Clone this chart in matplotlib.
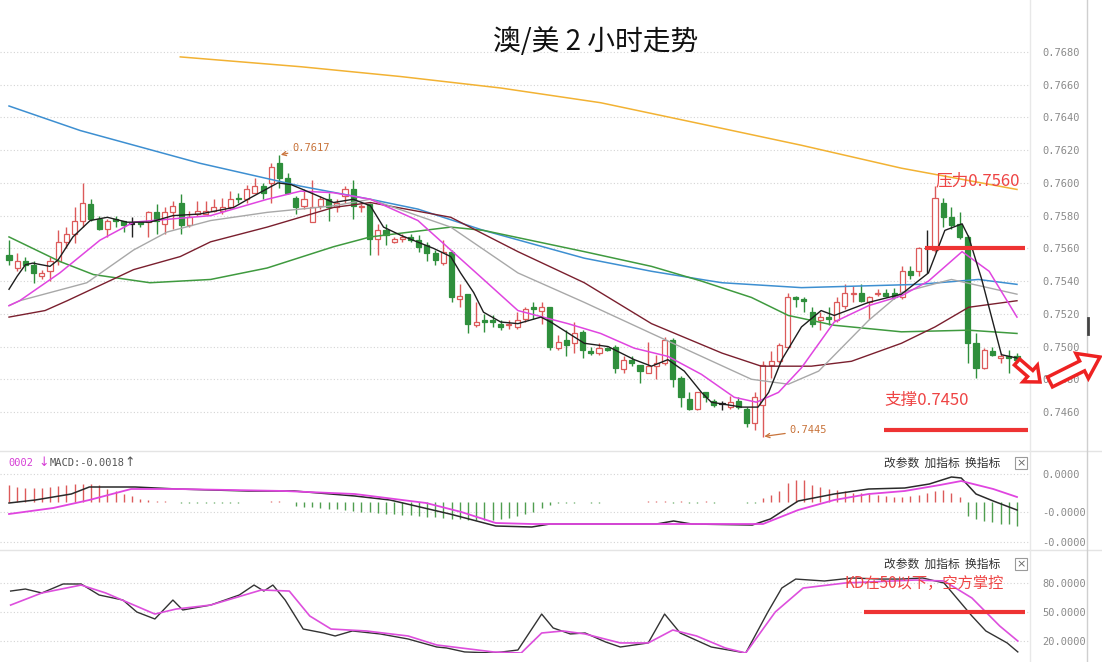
import numpy as np
import matplotlib
matplotlib.use("Agg")
import matplotlib.pyplot as plt
from matplotlib.patches import FancyArrow, Rectangle
from matplotlib.lines import Line2D
from matplotlib.transforms import Affine2D

W, H = 1102, 662
CJK = ['Noto Sans CJK SC', 'DejaVu Sans']
MONO = 'DejaVu Sans Mono'

# 2h candles, prices in pips (x 1e-4)
opens = [7556, 7548, 7552, 7550, 7543, 7546, 7552, 7564, 7569, 7577,
         7587, 7578, 7572, 7578, 7577, 7575, 7576, 7576, 7582, 7575,
         7582, 7588, 7574, 7581, 7581, 7583, 7583, 7585, 7591, 7590,
         7594, 7598, 7600, 7612, 7603, 7591, 7586, 7576, 7586, 7590,
         7585, 7592, 7596, 7585, 7587, 7566, 7571, 7564, 7566, 7567,
         7565, 7562, 7557, 7551, 7558, 7529, 7532, 7513, 7516, 7516,
         7514, 7513, 7512, 7517, 7524, 7522, 7524, 7499, 7504, 7502,
         7509, 7497, 7496, 7499, 7500, 7486, 7492, 7489, 7484, 7488,
         7490, 7504, 7481, 7468, 7462, 7472, 7467, 7465, 7463, 7467,
         7462, 7453, 7464, 7489, 7491, 7500, 7530, 7529, 7521, 7516,
         7518, 7516, 7525, 7532, 7533, 7527, 7532, 7533, 7533, 7530,
         7546, 7546, 7560, 7559, 7588, 7579, 7575, 7567, 7502, 7487,
         7497, 7493, 7494, 7494]
highs = [7565, 7557, 7555, 7552, 7547, 7555, 7571, 7573, 7585, 7600,
         7590, 7580, 7578, 7580, 7577, 7579, 7577, 7583, 7587, 7585,
         7589, 7593, 7583, 7589, 7589, 7590, 7591, 7595, 7594, 7599,
         7603, 7600, 7612, 7617, 7606, 7592, 7596, 7602, 7592, 7594,
         7590, 7598, 7602, 7587, 7588, 7575, 7575, 7567, 7569, 7569,
         7568, 7564, 7559, 7565, 7559, 7538, 7532, 7527, 7520, 7519,
         7516, 7516, 7521, 7524, 7527, 7527, 7524, 7507, 7510, 7515,
         7510, 7500, 7502, 7500, 7501, 7494, 7494, 7489, 7503, 7495,
         7506, 7505, 7482, 7472, 7472, 7472, 7468, 7467, 7470, 7469,
         7463, 7472, 7491, 7497, 7502, 7533, 7531, 7530, 7524, 7521,
         7524, 7530, 7538, 7537, 7538, 7531, 7535, 7535, 7536, 7549,
         7549, 7561, 7571, 7598, 7591, 7585, 7582, 7568, 7508, 7499,
         7500, 7496, 7498, 7496]
lows = [7550, 7546, 7546, 7539, 7541, 7540, 7550, 7560, 7563, 7573,
        7577, 7571, 7567, 7573, 7570, 7567, 7573, 7567, 7569, 7569,
        7572, 7569, 7573, 7580, 7581, 7582, 7581, 7584, 7588, 7588,
        7594, 7590, 7588, 7597, 7593, 7581, 7584, 7576, 7584, 7577,
        7582, 7588, 7578, 7582, 7556, 7556, 7562, 7563, 7564, 7564,
        7558, 7552, 7550, 7550, 7527, 7524, 7508, 7512, 7509, 7512,
        7510, 7511, 7511, 7515, 7517, 7514, 7498, 7498, 7494, 7496,
        7493, 7495, 7495, 7497, 7484, 7484, 7488, 7478, 7484, 7480,
        7489, 7475, 7463, 7461, 7461, 7466, 7463, 7461, 7462, 7462,
        7451, 7449, 7445, 7481, 7490, 7499, 7524, 7521, 7512, 7510,
        7513, 7515, 7523, 7527, 7527, 7517, 7531, 7530, 7529, 7529,
        7541, 7543, 7545, 7558, 7573, 7572, 7566, 7490, 7481, 7486,
        7494, 7490, 7484, 7489]
closes = [7553, 7552, 7550, 7545, 7545, 7552, 7564, 7569, 7577, 7588,
          7578, 7572, 7577, 7577, 7574, 7575, 7575, 7582, 7577, 7582,
          7586, 7574, 7579, 7583, 7583, 7585, 7585, 7590, 7590, 7596,
          7598, 7594, 7610, 7603, 7594, 7585, 7590, 7585, 7590, 7585,
          7588, 7596, 7586, 7586, 7566, 7571, 7568, 7566, 7567, 7565,
          7561, 7557, 7553, 7558, 7530, 7531, 7514, 7515, 7515, 7515,
          7512, 7514, 7516, 7523, 7523, 7524, 7500, 7503, 7501, 7508,
          7498, 7496, 7499, 7498, 7487, 7492, 7490, 7485, 7488, 7490,
          7504, 7480, 7469, 7462, 7472, 7469, 7464, 7465, 7466, 7463,
          7453, 7469, 7489, 7491, 7501, 7530, 7529, 7528, 7514, 7518,
          7517, 7527, 7533, 7533, 7528, 7530, 7533, 7531, 7530, 7546,
          7544, 7560, 7560, 7591, 7579, 7574, 7567, 7502, 7487, 7498,
          7495, 7494, 7493, 7492]

# moving averages: (candle index, price in pips)
ma5_idx = [0, 1, 2, 2.9, 5, 6, 7.8, 9.9, 12, 14.4, 17.2, 20, 23.3, 27.4, 29.5,
           32.8, 34.4, 36.8, 39.6, 42, 44.1, 45.7, 47.8, 51.8, 53.9, 55.1, 56.7,
           57.9, 60, 62.1, 64.9, 66.1, 70.2, 73.1, 76.3, 78.4, 80.4, 82.4, 84.5,
           85.7, 89.4, 91.4, 92.7, 94.3, 96.7, 99.1, 100.7, 104.9, 108.9, 112.2,
           114.2, 116.3, 117.1, 118.7, 121.1, 123]
ma5_val = [7535, 7543, 7550, 7551, 7549, 7553, 7567, 7577, 7579, 7576, 7576,
           7580, 7581, 7585, 7591, 7600, 7599, 7594, 7588, 7590, 7586, 7573,
           7568, 7560, 7555, 7545, 7533, 7521, 7515, 7514, 7518, 7515, 7502,
           7500, 7492, 7488, 7492, 7485, 7472, 7466, 7463, 7463, 7472, 7492,
           7512, 7522, 7519, 7527, 7532, 7545, 7571, 7575, 7567, 7541, 7495,
           7493]
ma10_idx = [0, 1.3, 6.2, 11.1, 15.2, 24.6, 31.5, 35.6, 39.6, 44.1, 49.9, 53.9,
            57.9, 62.1, 68.2, 72.2, 76.3, 80.4, 84.5, 88.5, 91.2, 93.9, 96.7,
            100.7, 104.9, 108.9, 112.2, 116.3, 119.6, 123]
ma10_val = [7525, 7528, 7545, 7565, 7576, 7580, 7590, 7595, 7594, 7590, 7577,
            7559, 7541, 7522, 7514, 7508, 7499, 7494, 7483, 7469, 7466, 7472,
            7487, 7515, 7525, 7531, 7540, 7558, 7546, 7518]
ma20_idx = [0, 1.3, 9.5, 15.2, 19.3, 24.6, 31.5, 39.6, 44.1, 53.9, 62.1, 70.2,
            78.4, 84.5, 90.6, 95.1, 98.8, 104.9, 108.9, 115, 123]
ma20_val = [7525, 7528, 7539, 7559, 7570, 7577, 7582, 7586, 7590, 7573, 7545,
            7527, 7508, 7494, 7480, 7477, 7485, 7516, 7533, 7541, 7532]
ma30_idx = [0, 4.4, 7.1, 15.2, 20.9, 24.6, 31.5, 39.6, 44.1, 53.9, 62.1, 70.2,
            78.4, 87, 91.8, 97.9, 102.8, 108.9, 113, 117.1, 123]
ma30_val = [7518, 7522, 7528, 7547, 7555, 7564, 7573, 7585, 7588, 7579, 7558,
            7539, 7514, 7496, 7488, 7488, 7491, 7502, 7512, 7524, 7528]
ma60_idx = [0, 6.2, 10.3, 17.2, 24.6, 31.5, 39.6, 44.1, 53.9, 57.9, 70.2, 78.4,
            84.5, 90.6, 95.1, 100.7, 108.9, 117.1, 123]
ma60_val = [7567, 7552, 7544, 7539, 7541, 7548, 7561, 7567, 7573, 7571, 7558,
            7549, 7540, 7530, 7519, 7513, 7509, 7510, 7508]
ma120_idx = [0, 8.7, 23.3, 35.6, 44.1, 49.9, 57.9, 70.2, 78.4, 84.5, 87, 96.7,
             111, 118.3, 123]
ma120_val = [7647, 7632, 7612, 7598, 7590, 7584, 7571, 7554, 7546, 7541, 7539,
             7536, 7538, 7541, 7538]
ma250_idx = [20.9, 35.6, 47.8, 60, 72.2, 84.5, 96.7, 108.9, 123]
ma250_val = [7677, 7671, 7665, 7658, 7649, 7636, 7623, 7609, 7596]

# MACD pane (units of 1e-6)
macd_hist = [17, 15, 14, 14, 14, 15, 16, 17, 18, 18, 18, 17, 13, 11, 8, 6, 3, 2,
             1, 1, 0, -1, -1, -1, -1, -1, -1, -1, -1, 0, 0, 0, 1, 1, 0,
             -4, -5, -5, -6, -7, -7, -8, -9, -10, -10, -11, -12, -12, -13, -13,
             -14, -15, -15, -16, -17, -17, -18, -18, -18, -18, -17, -16, -14,
             -12, -10, -6, -3,
             -1, -1, -1, 0, -1, -1, 0, 0, 0, 0, 0, 1, 1, 1, -1, 1, -1, -1, 1,
             -1, 0, 0, 0, -1, -1,
             4, 7, 11, 19, 22, 22, 17, 15, 13, 12, 11, 9, 9, 8, 7, 6, 5, 5, 6,
             7, 9, 11, 12, 9, 5,
             -14, -17, -19, -20, -22, -22, -24]
dif_idx = [0, 3.2, 7.6, 9.8, 15.4, 20.5, 29.2, 34.8, 42.2, 46.5, 53.8, 59.4,
           63.8, 66, 79, 81.1, 83.3, 90.7, 92.9, 96.3, 100.7, 104.9, 109.3,
           112.3, 115, 116.2, 118, 120.1, 123]
dif_val = [-1, 2, 8, 15, 15, 13, 11, 11, 6, 2, -12, -24, -25, -22, -22, -19,
           -22, -23, -17, 1, 8, 13, 14, 18, 25, 24, 8, 1, -8]
dea_idx = [0, 5.4, 9.8, 14.9, 20.5, 33.6, 42.2, 50.9, 55.2, 59.4, 63.8, 92,
           96.3, 100.7, 104.9, 109.3, 113.6, 116.2, 120.1, 123]
dea_val = [-12, -6, 2, 13, 13, 11, 8, -1, -10, -21, -22, -22, -8, 2, 8, 11, 17,
           21, 13, 5]

# KD pane
k_idx = [0.2, 2, 4, 6.6, 8.8, 11, 13.9, 15.6, 17.8, 20, 21.2, 24.6, 28.1, 29.9,
         31.1, 32.2, 33.7, 35.9, 38.4, 39.8, 41.9, 45.3, 48.7, 52.2, 53.4, 55.6,
         59.1, 62.1, 65, 66.4, 68.5, 70.3, 72.8, 74.6, 78, 80, 81.9, 85.7, 89.9,
         92.6, 94.3, 96, 99.5, 102.9, 106.3, 108.8, 111.5, 114.1, 117.5, 119.2,
         121.8, 123.1]
k_val = [71.7, 73.8, 69.7, 79, 79, 67.6, 62.4, 50, 42.8, 62.4, 52.1, 57.2, 67.6,
         77.9, 71.7, 77.9, 62.4, 32.4, 28.3, 25.2, 30.4, 27.3, 22.1, 13.8, 12.8,
         8.7, 7.6, 10.7, 47.9, 33.5, 27.3, 28.3, 19, 13.8, 18, 47.9, 28.3, 13.8,
         7.6, 50, 74.8, 84.1, 82.1, 85.2, 84.1, 84.1, 85.2, 80, 45.9, 30.4, 18,
         8.7]
d_idx = [0.2, 4, 8.8, 11.8, 17.8, 20.4, 24.6, 30.8, 34.2, 36.7, 39.3, 43.6,
         48.7, 52.2, 59.1, 62.5, 65, 67.6, 70.3, 74.6, 78, 81, 83.9, 87.4, 89.9,
         93.5, 96.9, 102, 110.6, 114.1, 117.5, 120.9, 123.1]
d_val = [57.2, 69.7, 77.9, 69.7, 47.9, 53.1, 57.2, 72.8, 71.7, 45.9, 32.4, 30.4,
         25.2, 15.9, 8.7, 7.6, 28.3, 30.4, 27.3, 18, 18, 31.4, 25.2, 12.8, 7.6,
         50, 74.8, 80, 83.1, 82.1, 64.5, 35.5, 20]

price_ticks = [7460, 7480, 7500, 7520, 7540, 7560, 7580, 7600, 7620, 7640,
               7660, 7680]

RED = '#dc5a5a'
GREEN = '#2f8f3c'
GRID = dict(color='#d4d4d4', lw=0.8, ls=(0, (1, 2)))


def box(x0, y0, x1, y1):
    return [x0 / W, 1 - y1 / H, (x1 - x0) / W, (y1 - y0) / H]


def clean(ax):
    for s in ax.spines.values():
        s.set_visible(False)
    ax.set_xticks([])
    ax.yaxis.tick_right()
    ax.tick_params(axis='y', length=0, pad=9, labelsize=7.5, labelcolor='#8a8a8a')
    for t in ax.get_yticklabels():
        t.set_family(MONO)
    ax.set_xlim(-9 / 8.195, (1030 - 9) / 8.195)


fig = plt.figure(figsize=(W / 100, H / 100), dpi=100)
fig.patch.set_facecolor('white')
px = Affine2D().scale(1 / W, -1 / H).translate(0, 1) + fig.transFigure

# ---------- main price pane ----------
ax = fig.add_axes(box(0, 0, 1030, 450))
o = np.array(opens) / 1e4
hi = np.array(highs) / 1e4
lo = np.array(lows) / 1e4
c = np.array(closes) / 1e4
x = np.arange(len(o))
col = np.where(c > o, RED, np.where(c < o, GREEN, '#222222'))
face = np.where(c > o, 'white', col)
ax.vlines(x, lo, hi, colors=col, lw=1, zorder=2)
ax.bar(x, np.maximum(np.abs(c - o), 0.00003), bottom=np.minimum(o, c), width=0.62,
       color=face, edgecolor=col, lw=0.9, zorder=2.5)

for xs, ys, cl, lw in [(ma250_idx, ma250_val, '#f2b233', 1.1),
                       (ma120_idx, ma120_val, '#3d8fd1', 1.1),
                       (ma60_idx, ma60_val, '#3f9a3f', 1.1),
                       (ma30_idx, ma30_val, '#7a1f2e', 1.0),
                       (ma20_idx, ma20_val, '#a8a8a8', 1.0),
                       (ma10_idx, ma10_val, '#e045e0', 1.1),
                       (ma5_idx, ma5_val, '#1e1e1e', 1.0)]:
    ax.plot(xs, np.array(ys) / 1e4, color=cl, lw=lw, zorder=3)

ax.set_ylim(0.7680 - 398 / 16364, 0.7680 + 52 / 16364)
ax.set_yticks(np.array(price_ticks) / 1e4)
ax.set_yticklabels([f'{t / 1e4:.4f}' for t in price_ticks])
for t in price_ticks:
    ax.axhline(t / 1e4, zorder=1, **GRID)
clean(ax)

ax.annotate('0.7617', xy=(33, hi[33]), xytext=(9, 5), textcoords='offset points',
            ha='left', va='center', fontsize=7.5, family=MONO, color='#c8733a',
            arrowprops=dict(arrowstyle='->', color='#c8733a', lw=0.9,
                            shrinkA=1, shrinkB=1))
ax.annotate('0.7445', xy=(92, lo[92]), xytext=(19, 4.5), textcoords='offset points',
            ha='left', va='center', fontsize=7.5, family=MONO, color='#c8733a',
            arrowprops=dict(arrowstyle='->', color='#c8733a', lw=0.9,
                            shrinkA=1, shrinkB=1))
ax.hlines(0.7560, 111.8, 124, colors='#ee3333', lw=3, zorder=4)
ax.hlines(0.7449, 106.8, 124.3, colors='#ee3333', lw=3, zorder=4)
ax.text(113, 0.7601, '压力0.7560', color='#ee4444', fontsize=12, family=CJK,
        ha='left', va='center', zorder=5)
ax.text(106.8, 0.7467, '支撑0.7450', color='#ee4444', fontsize=12, family=CJK,
        ha='left', va='center', zorder=5)

# ---------- MACD pane ----------
ax2 = fig.add_axes(box(0, 452, 1030, 550))
hist = np.array(macd_hist) * 1e-6
ax2.vlines(x, 0, hist, colors=np.where(hist >= 0, RED, '#4f9e4f'), lw=1, zorder=2)
ax2.plot(dif_idx, np.array(dif_val) * 1e-6, color='#2a2a2a', lw=1.1, zorder=3)
ax2.plot(dea_idx, np.array(dea_val) * 1e-6, color='#e045e0', lw=1.3, zorder=3)
ax2.set_ylim(-48e-6, 50e-6)
macd_ticks = [28e-6, -10e-6, -40e-6]
ax2.set_yticks(macd_ticks)
ax2.set_yticklabels([f'{t:.4f}' for t in macd_ticks])
for t in macd_ticks:
    ax2.axhline(t, zorder=1, **GRID)
clean(ax2)

# ---------- KD pane ----------
ax3 = fig.add_axes(box(0, 552, 1030, 653))
ax3.plot(k_idx, k_val, color='#333333', lw=1.0, zorder=3)
ax3.plot(d_idx, d_val, color='#dd4fdd', lw=1.2, zorder=3)
ax3.set_ylim(7.6, 112.1)
kd_ticks = [80, 50, 20]
ax3.set_yticks(kd_ticks)
ax3.set_yticklabels([f'{t:.4f}' for t in kd_ticks])
for t in kd_ticks:
    ax3.axhline(t, zorder=1, **GRID)
clean(ax3)
ax3.hlines(50, 104.3, 124, colors='#ee3333', lw=3, zorder=4)
ax3.text(102.0, 80, 'KD在50以下，空方掌控', color='#ee4444', fontsize=11,
         family=CJK, ha='left', va='center', zorder=5)

# ---------- frame, headers, decorations ----------
fig.add_artist(Line2D([0, W], [451, 451], transform=px, color='#e4e4e4', lw=1))
fig.add_artist(Line2D([0, W], [550, 550], transform=px, color='#e4e4e4', lw=1))
fig.add_artist(Line2D([1030, 1030], [0, H], transform=px, color='#e8e8e8', lw=1))
fig.add_artist(Line2D([1087, 1087], [0, H], transform=px, color='#cfcfcf', lw=1))
fig.add_artist(Line2D([1088, 1088], [318, 334], transform=px, color='#444444', lw=2))

fig.text(596 / W, 1 - 42 / H, '澳/美 2 小时走势', fontsize=20, family=CJK,
         ha='center', va='center', color='#111111')

fig.text(8 / W, 1 - 463 / H, '0002', fontsize=7.5, family=MONO, color='#d63fd6',
         va='center')
fig.text(38 / W, 1 - 463 / H, '↓', fontsize=9, color='#d63fd6', va='center')
fig.text(50 / W, 1 - 463 / H, 'MACD:-0.0018', fontsize=7.5, family=MONO,
         color='#555555', va='center')
fig.text(124 / W, 1 - 463 / H, '↑', fontsize=9, color='#555555', va='center')

for yy in (463, 564):
    fig.text(884 / W, 1 - yy / H, '改参数  加指标  换指标', fontsize=8.5,
             family=CJK, color='#333333', va='center')
    fig.add_artist(Rectangle((1015, yy - 6), 12, 12, transform=px, fill=False,
                             ec='#9a9a9a', lw=0.8))
    fig.text(1021 / W, 1 - yy / H, '×', fontsize=8, color='#666666',
             ha='center', va='center')

for (x0, y0, dx, dy, w, hw, hl) in [(1017, 362, 23, 20, 8, 22, 13),
                                   (1050, 382, 50, -25, 11, 28, 20)]:
    fig.add_artist(FancyArrow(x0, y0, dx, dy, width=w, head_width=hw,
                              head_length=hl, length_includes_head=True,
                              transform=px, fc='white', ec='#ee2222', lw=2.5,
                              zorder=10))

fig.savefig('out.png', dpi=100, facecolor='white')
